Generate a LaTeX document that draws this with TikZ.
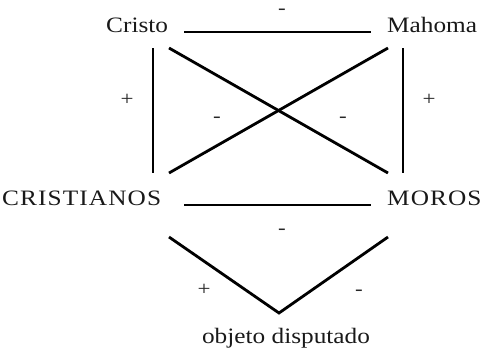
\documentclass[tikz,border=0pt]{standalone}
\usepackage{fontspec}
\setmainfont{Liberation Serif}[FakeStretch=1.15]
\usetikzlibrary{positioning}
\tikzset{
  lbl/.style={inner sep=0pt, text=black!90, font=\fontsize{22}{26}\selectfont},
  caps/.style={lbl, font=\fontsize{22}{26}\selectfont\addfontfeature{LetterSpace=5}},
  sgn/.style={inner sep=0pt, text=black!85, font=\fontsize{20}{22}\selectfont},
  rel/.style={line width=2.8pt, black},
}

\begin{document}
\begin{tikzpicture}[x=1pt,y=-1pt]
      \useasboundingbox (0,0) rectangle (482,349);
      \node[lbl,anchor=base west] (cristo) at (106,32) {Cristo};
      \node[lbl,anchor=base west] (mahoma) at (387,32) {Mahoma};
      \node[caps,anchor=base west] (cristianos) at (2,205) {CRISTIANOS};
      \node[caps,anchor=base west] (moros) at (387,205) {MOROS};
      \node[lbl,anchor=base] (objeto) at (286,343) {objeto disputado};

      \draw[rel] ([xshift=78]cristo.base west) -- ([xshift=-16]mahoma.base west);
      \draw[rel] ([xshift=182]cristianos.base west) -- ([xshift=-16]moros.base west);
      \draw[rel] ([shift={(47,16)}]cristo.base west) -- ([shift={(151,-32)}]cristianos.base west);
      \draw[rel] ([shift={(16,16)}]mahoma.base west) -- ([shift={(16,-32)}]moros.base west);
      \draw[rel] ([shift={(63,16)}]cristo.base west) -- ([shift={(1,-32)}]moros.base west);
      \draw[rel] ([shift={(1,16)}]mahoma.base west) -- ([shift={(167,-32)}]cristianos.base west);
      \draw[rel] ([shift={(167,32)}]cristianos.base west) -- ([shift={(-7,-30)}]objeto.base)
        -- ([shift={(1,32)}]moros.base west);

      \node[sgn] (m1) at (282,12) {-};
      \node[sgn] (p1) at (127,100) {+};
      \node[sgn] (p2) at (429,100) {+};
      \node[sgn] (m2) at (217,120) {-};
      \node[sgn] (m3) at (343,120) {-};
      \node[sgn] (m4) at (282,232) {-};
      \node[sgn] (p3) at (204,290) {+};
      \node[sgn] (m5) at (359,293) {-};
    \end{tikzpicture}
\end{document}
